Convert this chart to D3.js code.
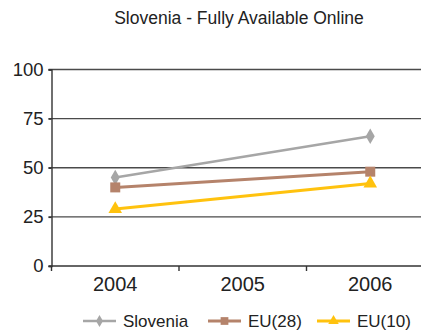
<!DOCTYPE html>
<html>
<head>
<meta charset="utf-8">
<script src="https://cdn.jsdelivr.net/npm/d3@7"></script>
<style>
  html, body { margin: 0; padding: 0; background: #fff; }
  svg { display: block; font-family: "Liberation Sans", Arial, sans-serif; }
</style>
</head>
<body>
<svg id="chart" width="421" height="332"></svg>
<script>
// Share of services fully available online (%)
const years = ["2004", "2005", "2006"];
const slovenia = [45, null, 66];
const eu28 = [40, null, 48];
const eu10 = [29, null, 42];
const yTicks = [0, 25, 50, 75, 100];
const seriesNames = ["Slovenia", "EU(28)", "EU(10)"];

const series = [
  { name: seriesNames[0], values: slovenia, color: "#a6a6a6", symbol: d3.symbolDiamond, size: 70, width: 2.5 },
  { name: seriesNames[1], values: eu28, color: "#b5836b", symbol: d3.symbolSquare, size: 100, width: 3 },
  { name: seriesNames[2], values: eu10, color: "#ffc20e", symbol: d3.symbolTriangle, size: 80, width: 3 }
];

const svg = d3.select("#chart");
const plotLeft = 51.5, plotBottom = 266, plotTop = 69.5, band = 127.5;

const x = d3.scaleBand().domain(years).range([plotLeft, plotLeft + band * years.length]);
const y = d3.scaleLinear().domain([0, 100]).range([plotBottom, plotTop]);
const cx = d => x(d) + x.bandwidth() / 2;

// Title
svg.append("text")
  .attr("x", 239).attr("y", 24)
  .attr("text-anchor", "middle")
  .attr("font-size", 17.5).attr("fill", "#222")
  .text("Slovenia - Fully Available Online");

// Horizontal gridlines
svg.append("g").selectAll("line").data(yTicks.filter(t => t > 0)).join("line")
  .attr("x1", plotLeft - 3).attr("x2", 421)
  .attr("y1", d => y(d)).attr("y2", d => y(d))
  .attr("stroke", "#4a4a4a").attr("stroke-width", 1.4);

// Y axis
const yAxis = svg.append("g").attr("transform", `translate(${plotLeft},0)`)
  .call(d3.axisLeft(y).tickValues(yTicks).tickSize(3).tickPadding(5));
yAxis.select(".domain").attr("stroke", "#333").attr("stroke-width", 1.4);
yAxis.selectAll(".tick line").attr("stroke", "#333").attr("stroke-width", 1.4);
yAxis.selectAll("text").attr("font-size", 18.5).attr("fill", "#222")
  .attr("font-family", "Liberation Sans, Arial, sans-serif");

// X axis with ticks between categories
const xg = svg.append("g").attr("transform", `translate(0,${plotBottom})`);
xg.append("line").attr("x1", plotLeft - 3).attr("x2", 421)
  .attr("stroke", "#333").attr("stroke-width", 1.4);
xg.selectAll("line.tk").data(years).join("line").attr("class", "tk")
  .attr("x1", d => x(d)).attr("x2", d => x(d))
  .attr("y1", 0).attr("y2", 5)
  .attr("stroke", "#333").attr("stroke-width", 1.4);
xg.selectAll("text").data(years).join("text")
  .attr("x", d => cx(d)).attr("y", 25)
  .attr("text-anchor", "middle")
  .attr("font-size", 20).attr("fill", "#222")
  .text(d => d);

// Series lines and markers
const line = d3.line()
  .defined(d => d.v != null)
  .x(d => cx(d.year)).y(d => y(d.v));

series.forEach(s => {
  const pts = years.map((yr, i) => ({ year: yr, v: s.values[i] })).filter(d => d.v != null);
  svg.append("path").datum(pts)
    .attr("d", line)
    .attr("fill", "none").attr("stroke", s.color).attr("stroke-width", s.width);
  svg.append("g").selectAll("path").data(pts).join("path")
    .attr("transform", d => `translate(${cx(d.year)},${y(d.v)})`)
    .attr("d", d3.symbol(s.symbol, s.size))
    .attr("fill", s.color);
});

// Legend
const legendX = [83, 208, 317];
const legendY = 321;
series.forEach((s, i) => {
  const g = svg.append("g").attr("transform", `translate(${legendX[i]},${legendY})`);
  g.append("line").attr("x1", 0).attr("x2", 33)
    .attr("stroke", s.color).attr("stroke-width", s.width);
  g.append("path").attr("transform", "translate(16.5,0)")
    .attr("d", d3.symbol(s.symbol, s.size * 0.6)).attr("fill", s.color);
  g.append("text").attr("x", 40).attr("y", 6)
    .attr("font-size", 17).attr("fill", "#222")
    .text(s.name);
});
</script>
</body>
</html>
